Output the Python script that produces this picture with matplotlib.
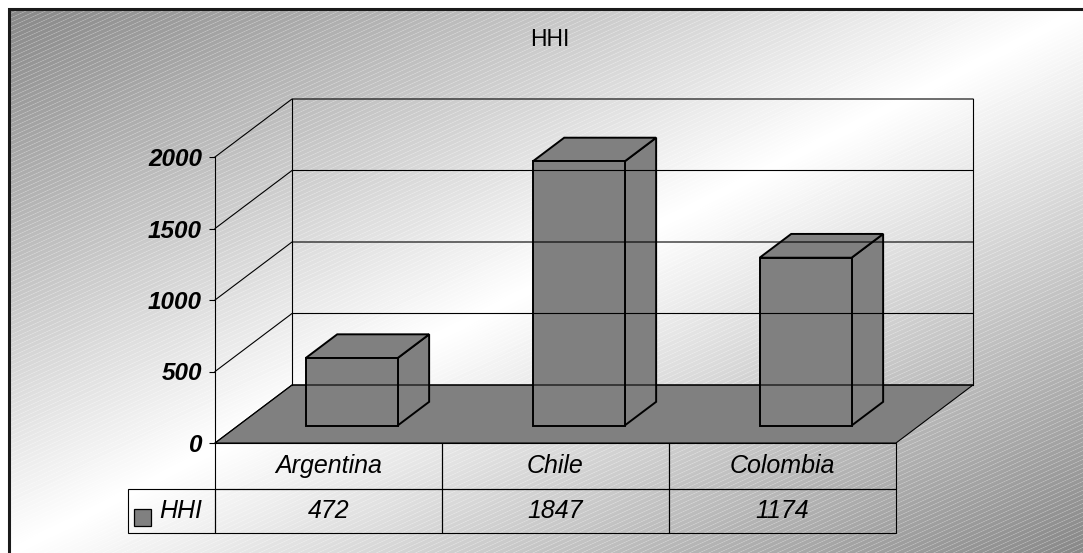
import numpy as np
import matplotlib
matplotlib.use('Agg')
import matplotlib.pyplot as plt
from matplotlib.patches import Polygon, Rectangle

plt.rcParams['font.family'] = ['Liberation Sans', 'DejaVu Sans']

# data
categories = ['Argentina', 'Chile', 'Colombia']
hhi = [472, 1847, 1174]
series_name = 'HHI'
y_ticks = [0, 500, 1000, 1500, 2000]
y_max = 2000

W, H = 1083, 553
fig = plt.figure(figsize=(W / 100, H / 100), dpi=100)

# background: diagonal grey gradient with fine light stripes
bg = fig.add_axes([0, 0, 1, 1])
yy, xx = np.mgrid[0:H, 0:W].astype(float)
s = np.abs((xx - 9) / (W - 9) + (yy - 9) / (H - 9) - 1)
shade = 1 - 0.47 * np.clip(s, 0, 1)
u = (yy + 0.45 * xx) % 4.4
stripe = (0.5 + 0.5 * np.cos(2 * np.pi * u / 4.4)) ** 8
shade = shade + (1 - shade) * 0.3 * stripe
shade[(xx < 9) | (yy < 9)] = 1
bg.imshow(shade, cmap='gray', vmin=0, vmax=1, extent=(0, W, H, 0),
          interpolation='nearest', aspect='auto')
bg.set_xlim(0, W)
bg.set_ylim(H, 0)
bg.axis('off')
bg.plot([9, 9, W], [H, 9, 9], color='#1a1a1a', lw=2.2, solid_joinstyle='miter')

fig.text(550 / W, 1 - 39 / H, 'HHI', ha='center', va='center', fontsize=16.5)

# front plane of the 3d plot
x0, x1, y0, y1 = 215, 896, 443, 157
ax = fig.add_axes([x0 / W, (H - y0) / H, (x1 - x0) / W, (y0 - y1) / H])
ax.set_xlim(0, len(categories))
ax.set_ylim(0, y_max)
ax.patch.set_alpha(0)

# depth offset of the back wall, in data units
depth_px = (77, 58)
dx = depth_px[0] * len(categories) / (x1 - x0)
dy = depth_px[1] * y_max / (y0 - y1)


def proj(c, v, d):
    return (c + d * dx, v + d * dy)


ncat = len(categories)
line_kw = dict(color='black', lw=0.8, clip_on=False)

# walls and gridlines
for v in y_ticks:
    a, b, c = proj(0, v, 0), proj(0, v, 1), proj(ncat, v, 1)
    ax.plot([a[0], b[0], c[0]], [a[1], b[1], c[1]], **line_kw)
for cx in (0, ncat):
    a, b = proj(cx, 0, 1), proj(cx, y_max, 1)
    ax.plot([a[0], b[0]], [a[1], b[1]], **line_kw)

# floor
floor = [proj(0, 0, 0), proj(ncat, 0, 0), proj(ncat, 0, 1), proj(0, 0, 1)]
ax.add_patch(Polygon(floor, closed=True, facecolor='#808080',
                     edgecolor='black', lw=0.8, clip_on=False))

# 3d columns
half_w = 0.2025
d0, d1 = 0.3, 0.71
bar_kw = dict(closed=True, facecolor='#808080', edgecolor='black',
              lw=1.4, joinstyle='miter', clip_on=False)
for i, v in enumerate(hhi):
    c = i + 0.5
    l, r = c - half_w, c + half_w
    front = [proj(l, 0, d0), proj(r, 0, d0), proj(r, v, d0), proj(l, v, d0)]
    top = [proj(l, v, d0), proj(r, v, d0), proj(r, v, d1), proj(l, v, d1)]
    side = [proj(r, 0, d0), proj(r, 0, d1), proj(r, v, d1), proj(r, v, d0)]
    for face in (side, top, front):
        ax.add_patch(Polygon(face, **bar_kw))

# axes styling
for name in ('top', 'right', 'bottom'):
    ax.spines[name].set_visible(False)
ax.spines['left'].set_linewidth(0.8)
ax.set_xticks([])
ax.set_yticks(y_ticks)
ax.tick_params(axis='y', direction='out', length=4.3, width=0.8, pad=5,
               labelsize=17.5)
for lbl in ax.get_yticklabels():
    lbl.set_fontweight('bold')
    lbl.set_fontstyle('italic')

# data table under the plot: first column holds the series label
label_w, col_w = 87.5, 227
tbl_left = -label_w / (x1 - x0)
tbl_h = (533 - y0) / (y0 - y1)
cell_text = [[''] + categories, [series_name] + [str(v) for v in hhi]]
tbl = ax.table(cellText=cell_text, cellLoc='center',
               bbox=[tbl_left, -tbl_h, 1 - tbl_left, tbl_h])
tbl.auto_set_font_size(False)
tbl.set_fontsize(18)
for (row, col), cell in tbl.get_celld().items():
    cell.set_facecolor('none')
    cell.set_edgecolor('black')
    cell.set_linewidth(0.8)
    cell.set_clip_on(False)
    cell.set_width(label_w if col == 0 else col_w)
    cell.set_height(46 if row == 0 else 44)
    cell.get_text().set_fontstyle('italic')
    if col == 0:
        cell.PAD = 0.15
        cell.get_text().set_horizontalalignment('right')
        cell._loc = 'right'
tbl[0, 0].visible_edges = ''

# legend key next to the series label
bg.add_patch(Rectangle((134, 509), 17, 17, facecolor='#808080',
                       edgecolor='black', lw=0.9))

fig.savefig('out.png', dpi=100)
